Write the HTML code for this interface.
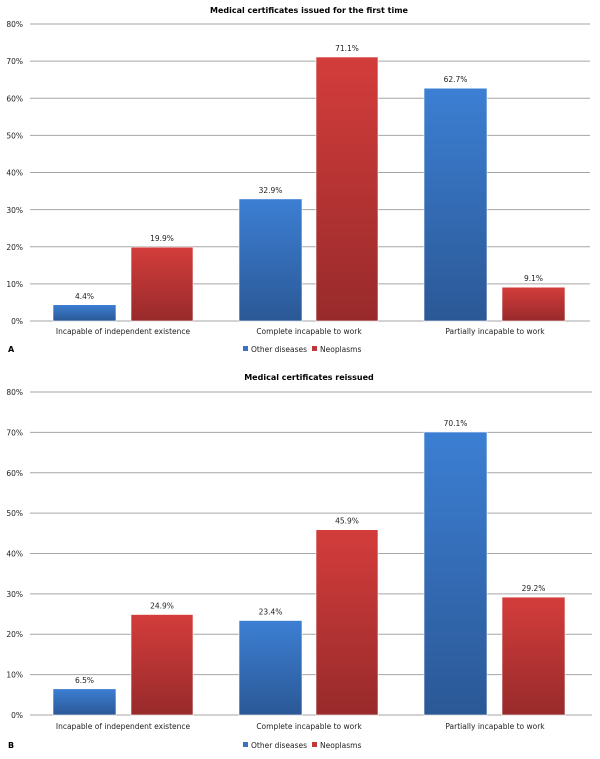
<!DOCTYPE html>
<html><head><style>
html,body{margin:0;padding:0;background:#fff}
svg text{font-family:"DejaVu Sans","Liberation Sans",sans-serif;font-size:7.5px;fill:#222}
.t{font-weight:bold;font-size:8px;fill:#000}
</style></head><body>
<svg width="600" height="754" xmlns="http://www.w3.org/2000/svg">
<defs>
<linearGradient id="b" x1="0" y1="0" x2="0" y2="1"><stop offset="0" stop-color="#3c7fd3"/><stop offset="1" stop-color="#2b5896"/></linearGradient>
<linearGradient id="r" x1="0" y1="0" x2="0" y2="1"><stop offset="0" stop-color="#d33d3b"/><stop offset="1" stop-color="#982a2b"/></linearGradient>
</defs>
<text class="t" x="309" y="13" text-anchor="middle">Medical certificates issued for the first time</text>
<g stroke="#a6a6a6" stroke-width="1">
<line x1="30" x2="590" y1="321" y2="321"/><line x1="30" x2="590" y1="283.9" y2="283.9"/><line x1="30" x2="590" y1="246.8" y2="246.8"/><line x1="30" x2="590" y1="209.6" y2="209.6"/><line x1="30" x2="590" y1="172.5" y2="172.5"/><line x1="30" x2="590" y1="135.4" y2="135.4"/><line x1="30" x2="590" y1="98.3" y2="98.3"/><line x1="30" x2="590" y1="61.1" y2="61.1"/><line x1="30" x2="590" y1="24" y2="24"/>
</g>
<g text-anchor="end">
<text x="23" y="324">0%</text><text x="23" y="287">10%</text><text x="23" y="250">20%</text><text x="23" y="213">30%</text><text x="23" y="175.5">40%</text><text x="23" y="138.5">50%</text><text x="23" y="101.5">60%</text><text x="23" y="64">70%</text><text x="23" y="27">80%</text>
</g>
<g stroke="#fff" stroke-width="0.6">
<rect x="53" y="304.7" width="63" height="16.3" fill="url(#b)"/>
<rect x="131" y="247.1" width="62" height="73.9" fill="url(#r)"/>
<rect x="239" y="198.9" width="63" height="122.1" fill="url(#b)"/>
<rect x="316" y="57" width="62" height="264" fill="url(#r)"/>
<rect x="424" y="88.2" width="63" height="232.8" fill="url(#b)"/>
<rect x="502" y="287.2" width="63" height="33.8" fill="url(#r)"/>
</g>
<g text-anchor="middle">
<text x="84.5" y="299">4.4%</text><text x="162" y="241">19.9%</text><text x="270.5" y="193">32.9%</text><text x="347" y="51">71.1%</text><text x="455.5" y="82">62.7%</text><text x="533.5" y="281">9.1%</text>
<text x="123" y="334">Incapable of independent existence</text><text x="309" y="334">Complete incapable to work</text><text x="495" y="334">Partially incapable to work</text>
</g>
<text class="t" x="8" y="352">A</text>
<rect x="243" y="346" width="5" height="5" fill="#3a74c0"/><text x="251" y="352">Other diseases</text>
<rect x="312" y="346" width="5" height="5" fill="#c0393a"/><text x="320" y="352">Neoplasms</text>

<text class="t" x="309" y="380" text-anchor="middle">Medical certificates reissued</text>
<g stroke="#a6a6a6" stroke-width="1">
<line x1="30" x2="592" y1="715" y2="715"/><line x1="30" x2="592" y1="674.6" y2="674.6"/><line x1="30" x2="592" y1="634.3" y2="634.3"/><line x1="30" x2="592" y1="593.9" y2="593.9"/><line x1="30" x2="592" y1="553.5" y2="553.5"/><line x1="30" x2="592" y1="513.1" y2="513.1"/><line x1="30" x2="592" y1="472.8" y2="472.8"/><line x1="30" x2="592" y1="432.4" y2="432.4"/><line x1="30" x2="592" y1="392" y2="392"/>
</g>
<g text-anchor="end">
<text x="23" y="718">0%</text><text x="23" y="677.5">10%</text><text x="23" y="637">20%</text><text x="23" y="597">30%</text><text x="23" y="556.5">40%</text><text x="23" y="516">50%</text><text x="23" y="476">60%</text><text x="23" y="435.5">70%</text><text x="23" y="395">80%</text>
</g>
<g stroke="#fff" stroke-width="0.6">
<rect x="53" y="688.8" width="63" height="26.2" fill="url(#b)"/>
<rect x="131" y="614.5" width="62" height="100.5" fill="url(#r)"/>
<rect x="239" y="620.5" width="63" height="94.5" fill="url(#b)"/>
<rect x="316" y="529.7" width="62" height="185.3" fill="url(#r)"/>
<rect x="424" y="432" width="63" height="283" fill="url(#b)"/>
<rect x="502" y="597.1" width="63" height="117.9" fill="url(#r)"/>
</g>
<g text-anchor="middle">
<text x="84.5" y="683">6.5%</text><text x="162" y="608.5">24.9%</text><text x="270.5" y="614.5">23.4%</text><text x="347" y="523.5">45.9%</text><text x="455.5" y="426">70.1%</text><text x="533.5" y="591">29.2%</text>
<text x="123" y="729">Incapable of independent existence</text><text x="309" y="729">Complete incapable to work</text><text x="495" y="729">Partially incapable to work</text>
</g>
<text class="t" x="8" y="748">B</text>
<rect x="243" y="742" width="5" height="5" fill="#3a74c0"/><text x="251" y="748">Other diseases</text>
<rect x="312" y="742" width="5" height="5" fill="#c0393a"/><text x="320" y="748">Neoplasms</text>
</svg>
</body></html>
